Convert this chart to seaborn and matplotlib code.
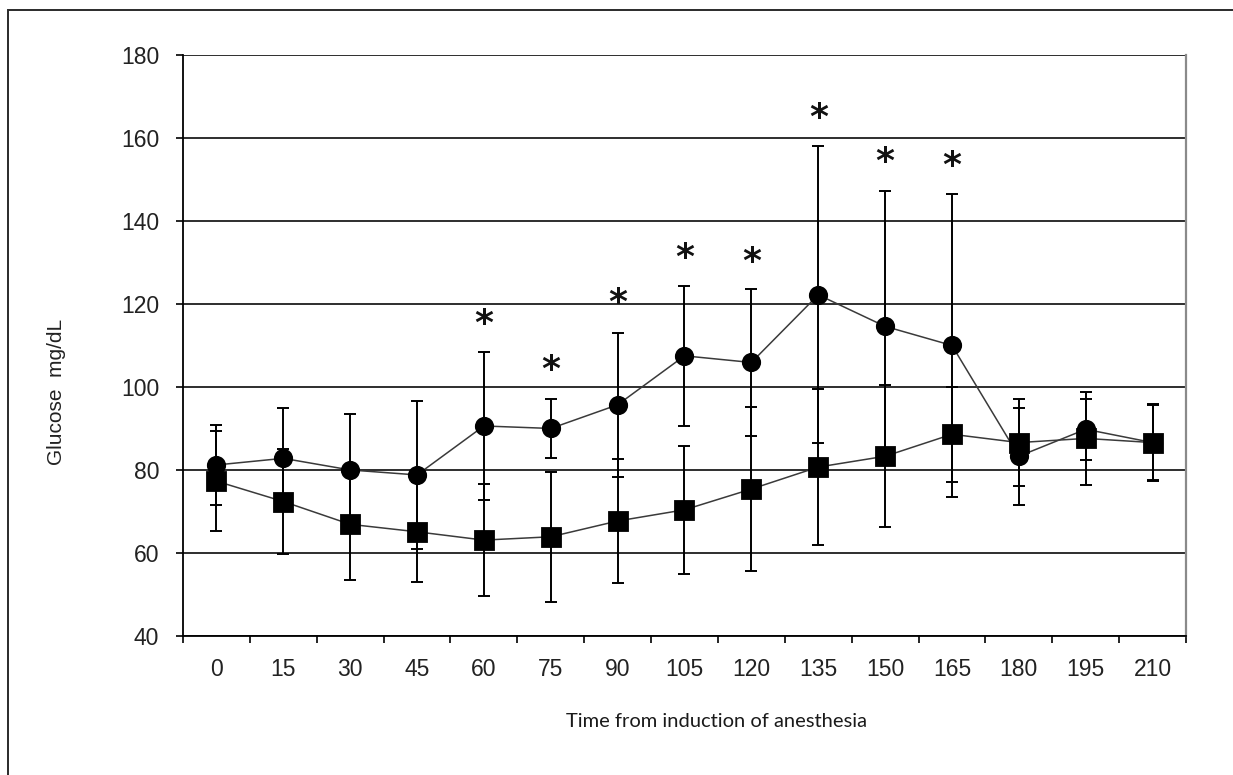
import numpy as np
import pandas as pd
import matplotlib
matplotlib.use("Agg")
import matplotlib.pyplot as plt
from matplotlib.patches import Rectangle
import seaborn as sns

# ---- data ----
times = [0, 15, 30, 45, 60, 75, 90, 105, 120, 135, 150, 165, 180, 195, 210]
circle_mean = [81.2, 82.8, 80.0, 78.8, 90.6, 90.0, 95.7, 107.5, 105.9, 122.2, 114.6, 110.0, 83.3, 89.8, 86.6]
circle_sd = [9.7, 12.2, 13.6, 17.9, 17.8, 7.0, 17.3, 16.8, 17.6, 35.8, 32.7, 36.6, 11.7, 7.3, 9.0]
square_mean = [77.3, 72.4, 66.9, 65.1, 63.1, 63.9, 67.7, 70.4, 75.4, 80.7, 83.3, 88.6, 86.6, 87.6, 86.6]
square_sd = [12.0, 12.6, 13.3, 12.1, 13.5, 15.6, 15.0, 15.4, 19.7, 18.7, 17.1, 11.4, 10.5, 11.2, 9.2]
star_times = [60, 75, 90, 105, 120, 135, 150, 165]
star_y = [116.9, 105.8, 121.8, 132.8, 131.8, 166.4, 155.9, 155.0]
yticks = [40, 60, 80, 100, 120, 140, 160, 180]
xlabel = "Time from induction of anesthesia"
ylabel = "Glucose  mg/dL"
groups = ["Group 1", "Group 2"]

sns.set_style("white")
plt.rcParams["font.family"] = ["Liberation Sans", "DejaVu Sans"]

df = pd.DataFrame({
    "time": [str(t) for t in times] * 2,
    "glucose": circle_mean + square_mean,
    "group": [groups[0]] * len(times) + [groups[1]] * len(times),
})

fig = plt.figure(figsize=(12.33, 7.75), dpi=100)
ax = fig.add_axes([0.1484, 0.1794, 0.8135, 0.7497])

sns.pointplot(data=df, x="time", y="glucose", hue="group",
              order=[str(t) for t in times], hue_order=groups,
              markers=["o", "s"], linestyles=["-", "-"],
              palette=["black", "black"], errorbar=None, legend=False,
              ax=ax, zorder=4)

pts = list(ax.lines)
for ln, ms in zip(pts, [11.8, 12.3]):
    ln.set_color("#3a3a3a")
    ln.set_linewidth(1.1)
    ln.set_markerfacecolor("black")
    ln.set_markeredgecolor("black")
    ln.set_markersize(ms)
    ln.set_zorder(4)

pos = np.arange(len(times))
for m, s in [(circle_mean, circle_sd), (square_mean, square_sd)]:
    ax.errorbar(pos, m, yerr=s, fmt="none", ecolor="black",
                elinewidth=1.4, capsize=4, capthick=1.4, zorder=3)

tindex = {t: i for i, t in enumerate(times)}
for t, y in zip(star_times, star_y):
    ax.annotate("*", xy=(tindex[t], y), xytext=(0, -5), textcoords="offset points",
                ha="center", va="center", fontsize=26, fontweight="bold",
                family=["DejaVu Sans"], color="#111")

ax.set_xlim(-0.5, len(times) - 0.5)
ax.set_ylim(40, 180)
ax.set_yticks(yticks)
ax.set_yticklabels([str(v) for v in yticks])
ax.yaxis.grid(True, color="#1e1e1e", linewidth=1.3)
ax.xaxis.grid(False)
ax.set_axisbelow(True)

ax.set_xticks(pos)
ax.set_xticklabels([str(t) for t in times])
ax.set_xticks(np.arange(-0.5, len(times), 1.0), minor=True)
ax.tick_params(axis="x", which="major", length=0, pad=16, labelsize=16.5, colors="#222")
ax.tick_params(axis="x", which="minor", length=5, width=1.2, direction="out", color="black", bottom=True)
ax.tick_params(axis="y", which="major", length=5, width=1.2, direction="out", pad=12,
               labelsize=16.5, colors="#222", left=True)
ax.tick_params(axis="y", colors="black", labelcolor="#222")

for side in ["left", "bottom", "top"]:
    ax.spines[side].set_color("black")
    ax.spines[side].set_linewidth(1.3)
ax.spines["top"].set_visible(False)
ax.spines["right"].set_color("#8a8a8a")
ax.spines["right"].set_linewidth(1.6)

ax.set_xlabel(xlabel, fontsize=14.5, family=["Lato", "DejaVu Sans"], color="#1a1a1a")
ax.xaxis.label.set_va("center")
ax.xaxis.set_label_coords(0.532, -0.148)
ax.set_ylabel(ylabel, fontsize=15, color="#222")
ax.yaxis.label.set_va("center")
ax.yaxis.set_label_coords(-0.1265, 0.42)

frame = Rectangle((8 / 1233, -0.1), 1.2, (1 - 10 / 775) + 0.1, transform=fig.transFigure,
                  fill=False, edgecolor="#2a2a2a", linewidth=1.4, clip_on=False)
fig.add_artist(frame)

fig.savefig("out.png", dpi=100, facecolor="white")
